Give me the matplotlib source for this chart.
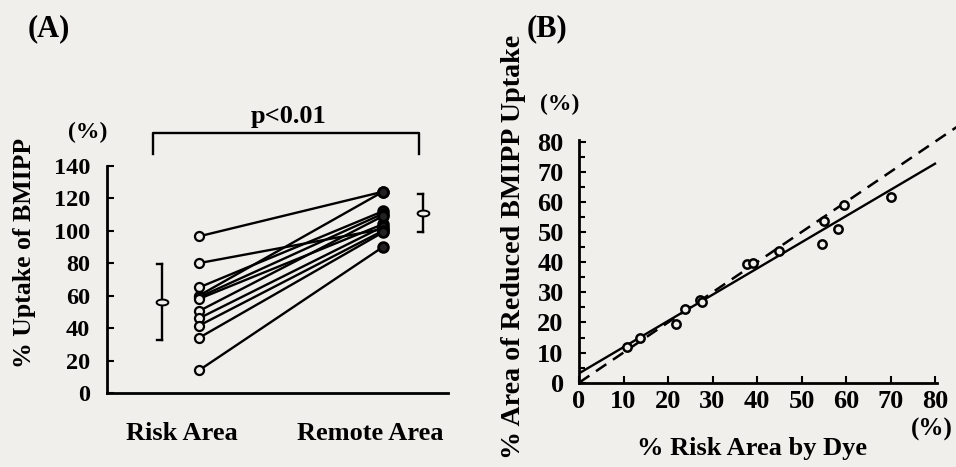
import matplotlib
matplotlib.use('Agg')
import matplotlib.pyplot as plt
import numpy as np
from matplotlib.path import Path

plt.rcParams['font.family'] = ['Liberation Serif', 'DejaVu Serif']
plt.rcParams['font.weight'] = 'bold'

# ---------------- data ----------------
groups = ['Risk Area', 'Remote Area']
risk_uptake = [96.5, 80, 65, 60, 59, 58, 50.5, 46, 41.5, 34, 14]
remote_uptake = [124, 101, 112, 124, 110.5, 104, 109, 102.5, 100, 99, 90]
group_mean = [56, 111]
group_sd = [23.3, 11.6]
p_text = 'p<0.01'

dye_area = [10.7, 13.7, 21.9, 23.8, 27.2, 27.7, 37.7, 39.2, 45.0, 54.7, 55.1, 58.2, 59.6, 70.1]
bmipp_area = [12.0, 14.7, 19.5, 24.5, 27.5, 26.9, 39.3, 39.8, 43.7, 45.9, 53.6, 51.0, 59.0, 61.8]
fit_slope = 0.87
fit_intercept = 3.1

bg = '#f1efeb'
W, H = 956, 467
fig = plt.figure(figsize=(W / 100, H / 100), dpi=100, facecolor=bg)

def fx(px):
    return px / W

def fy(py):
    return 1 - py / H

# ---------------- panel A ----------------
axA = fig.add_axes([fx(106.7), fy(393), fx(448) - fx(106.7), fy(165.7) - fy(393)])
axA.set_facecolor('none')
xr, xm = 1, 2
for r, m in zip(risk_uptake, remote_uptake):
    axA.plot([xr, xm], [r, m], color='k', lw=1.7, zorder=2, solid_capstyle='round')
axA.plot([xr] * len(risk_uptake), risk_uptake, 'o', ms=6.5, mfc=bg, mec='k', mew=1.6, zorder=3)
axA.plot([xm] * len(remote_uptake), remote_uptake, 'o', ms=7, mfc='#222', mec='k', mew=2, zorder=3)

t = np.linspace(0, 2 * np.pi, 60)
ell = Path(np.column_stack([np.cos(t), 0.5 * np.sin(t)]))
bar_x = [0.797, 2.216]
cap = 0.025
for bx, mu, sd in zip(bar_x, group_mean, group_sd):
    axA.plot([bx, bx], [mu - sd, mu + sd], color='k', lw=1.7, zorder=2)
    axA.plot([bx - cap, bx], [mu + sd, mu + sd], color='k', lw=1.7)
    axA.plot([bx - cap, bx], [mu - sd, mu - sd], color='k', lw=1.7)
    axA.plot([bx], [mu], marker=ell, ms=8.5, mfc=bg, mec='k', mew=1.4, zorder=4)

axA.plot([0.752, 0.752, 2.197, 2.197], [147, 160, 160, 147], color='k', lw=1.7, clip_on=False)
axA.text(1.484, 163, p_text, ha='center', va='bottom', fontsize=19, fontweight='bold')

axA.set_xlim(0.498, 2.353)
axA.set_ylim(0, 140)
axA.set_yticks(np.arange(0, 141, 20))
axA.set_xticks([0.905, 1.929])
axA.set_xticklabels(groups, fontsize=19, fontweight='bold')
axA.tick_params(axis='x', length=0, pad=21)
axA.tick_params(axis='y', direction='in', length=5, width=1.5, labelsize=17.5, pad=12)
for s in ['top', 'right']:
    axA.spines[s].set_visible(False)
for s in ['left', 'bottom']:
    axA.spines[s].set_linewidth(2)
fig.text(fx(25), fy(253), '% Uptake of BMIPP', rotation=90, ha='center', va='center',
         fontsize=18.5, fontweight='bold')
fig.text(fx(88), fy(132), '(%)', ha='center', va='center', fontsize=17, fontweight='bold')
fig.text(fx(49), fy(29), '(A)', ha='center', va='center', fontsize=22, fontweight='bold')

# ---------------- panel B ----------------
x0b, x80b = 579, 935
axB = fig.add_axes([fx(x0b), fy(382.7), fx(x0b + (x80b - x0b) * 80.5 / 80) - fx(x0b),
                    fy(141.7 - 3.0125 * 0.5) - fy(382.7)])
axB.set_facecolor('none')
xs = np.array([0, 80])
axB.plot(xs, fit_slope * xs + fit_intercept, color='k', lw=1.7, zorder=2)
xi = np.array([0, 85])
axB.plot(xi, xi, color='k', lw=1.8, ls=(0, (5, 3.2)), clip_on=False, zorder=2)
axB.plot(dye_area, bmipp_area, 'o', ms=6, mfc=bg, mec='k', mew=1.8, zorder=3)

axB.set_xlim(0, 80.5)
axB.set_ylim(0, 80.5)
axB.set_xticks(np.arange(0, 81, 10))
axB.set_yticks(np.arange(0, 81, 10))
axB.set_yticks(np.arange(5, 80, 10), minor=True)
axB.tick_params(axis='both', which='major', direction='in', length=5, width=1.5, labelsize=19)
axB.tick_params(axis='y', which='minor', direction='in', length=4, width=1.5)
axB.tick_params(axis='x', pad=5)
axB.tick_params(axis='y', pad=11)
for s in ['top', 'right']:
    axB.spines[s].set_visible(False)
for s in ['left', 'bottom']:
    axB.spines[s].set_linewidth(2)

fig.text(fx(514), fy(247), '% Area of Reduced BMIPP Uptake', rotation=90, ha='center', va='center',
         fontsize=20.2, fontweight='bold')
fig.text(fx(560), fy(104), '(%)', ha='center', va='center', fontsize=17, fontweight='bold')
fig.text(fx(932), fy(429), '(%)', ha='center', va='center', fontsize=18, fontweight='bold')
fig.text(fx(752), fy(448), '% Risk Area by Dye', ha='center', va='center', fontsize=19, fontweight='bold')
fig.text(fx(547), fy(29), '(B)', ha='center', va='center', fontsize=22, fontweight='bold')

fig.savefig('out.png', dpi=100, facecolor=bg)
